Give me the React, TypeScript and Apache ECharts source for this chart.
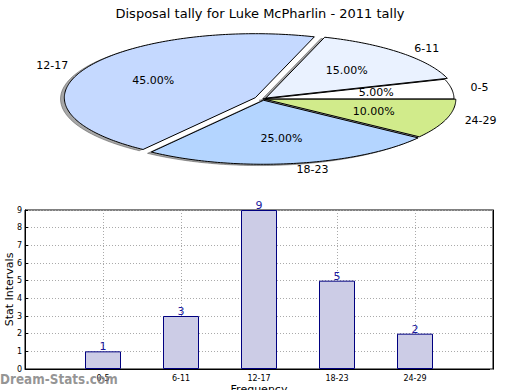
import React, { useEffect, useRef } from "react";
import * as echarts from "echarts";

const categories = ["0-5", "6-11", "12-17", "18-23", "24-29"];
const counts = [1, 3, 9, 5, 2];
const sliceColors = ["#ffffff", "#eaf2ff", "#c5d9ff", "#b4d5ff", "#d1eb8b"];
const explodes = [0, 0.02, 0.045, 0.02, 0.01];

const FONT = "DejaVu Sans";
const PIE = { cx: 263, cy: 99, rx: 191, ry: 64 };

function sliceGeom(i: number) {
  const total = counts.reduce((a, b) => a + b, 0);
  let before = 0;
  for (let k = 0; k < i; k++) before += counts[k];
  const t1 = (before / total) * 360;
  const t2 = ((before + counts[i]) / total) * 360;
  const mid = (((t1 + t2) / 2) * Math.PI) / 180;
  const ex = explodes[i];
  const ox = PIE.cx + ex * PIE.rx * Math.cos(mid);
  const oy = PIE.cy - ex * PIE.ry * Math.sin(mid);
  return { total, t1, t2, mid, ox, oy };
}

function wedgePoints(ox: number, oy: number, t1: number, t2: number) {
  const pts: number[][] = [[ox, oy]];
  const steps = Math.max(4, Math.ceil(t2 - t1));
  for (let s = 0; s <= steps; s++) {
    const t = ((t1 + ((t2 - t1) * s) / steps) * Math.PI) / 180;
    pts.push([ox + PIE.rx * Math.cos(t), oy - PIE.ry * Math.sin(t)]);
  }
  return pts;
}

export default function App() {
  const ref = useRef<HTMLDivElement>(null);
  useEffect(() => {
    document.body.style.margin = "0";
    const chart = echarts.init(ref.current!, undefined, { renderer: "svg" });
    const option: any = {
      animation: false,
      backgroundColor: "#ffffff",
      textStyle: { fontFamily: FONT },
      title: {
        text: "Disposal tally for Luke McPharlin - 2011 tally",
        left: "center",
        top: 2,
        textStyle: { fontFamily: FONT, fontSize: 13, fontWeight: "normal", color: "#000" },
      },
      grid: {
        left: 25,
        top: 210,
        width: 468,
        height: 159,
        containLabel: false,
        outerBoundsMode: "none",
        show: true,
        borderColor: "#000",
        borderWidth: 1,
      },
      xAxis: {
        type: "value",
        min: -1,
        max: 5,
        interval: 1,
        name: "Frequency",
        nameLocation: "middle",
        nameGap: 15,
        nameMoveOverlap: false,
        nameTextStyle: { fontFamily: FONT, fontSize: 11, color: "#000" },
        axisLine: { show: true, onZero: false, lineStyle: { color: "#000" } },
        axisTick: { show: true, inside: true, length: 3, lineStyle: { color: "#000" } },
        axisLabel: {
          fontFamily: FONT,
          fontSize: 8,
          color: "#000",
          margin: 5,
          formatter: (v: number) => (categories[v] !== undefined ? categories[v] : ""),
        },
        splitLine: { show: true, lineStyle: { color: "#aaaaaa", type: [1, 2], width: 1 } },
      },
      yAxis: [
        {
          type: "value",
          min: 0,
          max: 9,
          interval: 1,
          name: "Stat Intervals",
          nameLocation: "middle",
          nameGap: 10,
          nameMoveOverlap: false,
          nameTextStyle: { fontFamily: FONT, fontSize: 11, color: "#000" },
          axisLine: { show: true, onZero: false, lineStyle: { color: "#000" } },
          axisTick: { show: true, inside: true, length: 3, lineStyle: { color: "#000" } },
          axisLabel: { fontFamily: FONT, fontSize: 8, color: "#000", margin: 3 },
          splitLine: { show: true, lineStyle: { color: "#aaaaaa", type: [1, 2], width: 1 } },
        },
        {
          type: "value",
          min: 0,
          max: 9,
          interval: 1,
          position: "right",
          axisLine: { show: true, onZero: false, lineStyle: { color: "#000" } },
          axisTick: { show: true, inside: true, length: 3, lineStyle: { color: "#888" } },
          axisLabel: { show: false },
          splitLine: { show: false },
        },
      ],
      series: [
        {
          type: "bar",
          data: counts.map((v, i) => [i, v]),
          barWidth: 36,
          itemStyle: { color: "#cccce6", borderColor: "#000080", borderWidth: 1 },
          label: {
            show: true,
            position: "top",
            distance: -1,
            fontFamily: FONT,
            fontSize: 11,
            color: "#1a1aa0",
            formatter: (p: any) => String(p.value[1]),
          },
          silent: true,
        },
        {
          type: "custom",
          coordinateSystem: "none",
          silent: true,
          data: counts.map((v, i) => [i, v]),
          renderItem: (params: any) => {
            const i = params.dataIndex;
            const g = sliceGeom(i);
            const dx = -0.02 * PIE.rx;
            const dy = 0.02 * PIE.ry;
            return {
              type: "polygon",
              shape: { points: wedgePoints(g.ox + dx, g.oy + dy, g.t1, g.t2) },
              style: { fill: "rgba(60,60,60,0.45)", stroke: "rgba(60,60,60,0.45)", lineWidth: 1 },
            };
          },
        },
        {
          type: "custom",
          coordinateSystem: "none",
          silent: true,
          data: counts.map((v, i) => [i, v]),
          renderItem: (params: any, api: any) => {
            const i = params.dataIndex;
            const g = sliceGeom(i);
            const v = api.value(1);
            const c = Math.cos(g.mid);
            const s = Math.sin(g.mid);
            const pct = ((v / g.total) * 100).toFixed(2) + "%";
            return {
              type: "group",
              children: [
                {
                  type: "polygon",
                  shape: { points: wedgePoints(g.ox, g.oy, g.t1, g.t2) },
                  style: { fill: sliceColors[i], stroke: "#000", lineWidth: 1 },
                },
                {
                  type: "text",
                  z2: 10,
                  style: {
                    text: pct,
                    x: g.ox + 0.6 * PIE.rx * c,
                    y: g.oy - 0.6 * PIE.ry * s,
                    align: "center",
                    verticalAlign: "middle",
                    font: `11px "${FONT}"`,
                    fill: "#000",
                  },
                },
                {
                  type: "text",
                  z2: 10,
                  style: {
                    text: categories[i],
                    x: g.ox + 1.1 * PIE.rx * c,
                    y: g.oy - 1.1 * PIE.ry * s,
                    align: c >= 0 ? "left" : "right",
                    verticalAlign: "middle",
                    font: `11px "${FONT}"`,
                    fill: "#000",
                  },
                },
              ],
            };
          },
        },
      ],
      graphic: [
        {
          type: "text",
          left: 0,
          top: 372,
          z: 100,
          scaleX: 0.86,
          style: {
            text: "Dream-Stats.com",
            font: `bold 14px "${FONT}"`,
            fill: "rgba(130,130,130,0.85)",
          },
        },
      ],
    };
    chart.setOption(option);
    return () => chart.dispose();
  }, []);
  return <div ref={ref} style={{ width: 520, height: 390 }} />;
}
